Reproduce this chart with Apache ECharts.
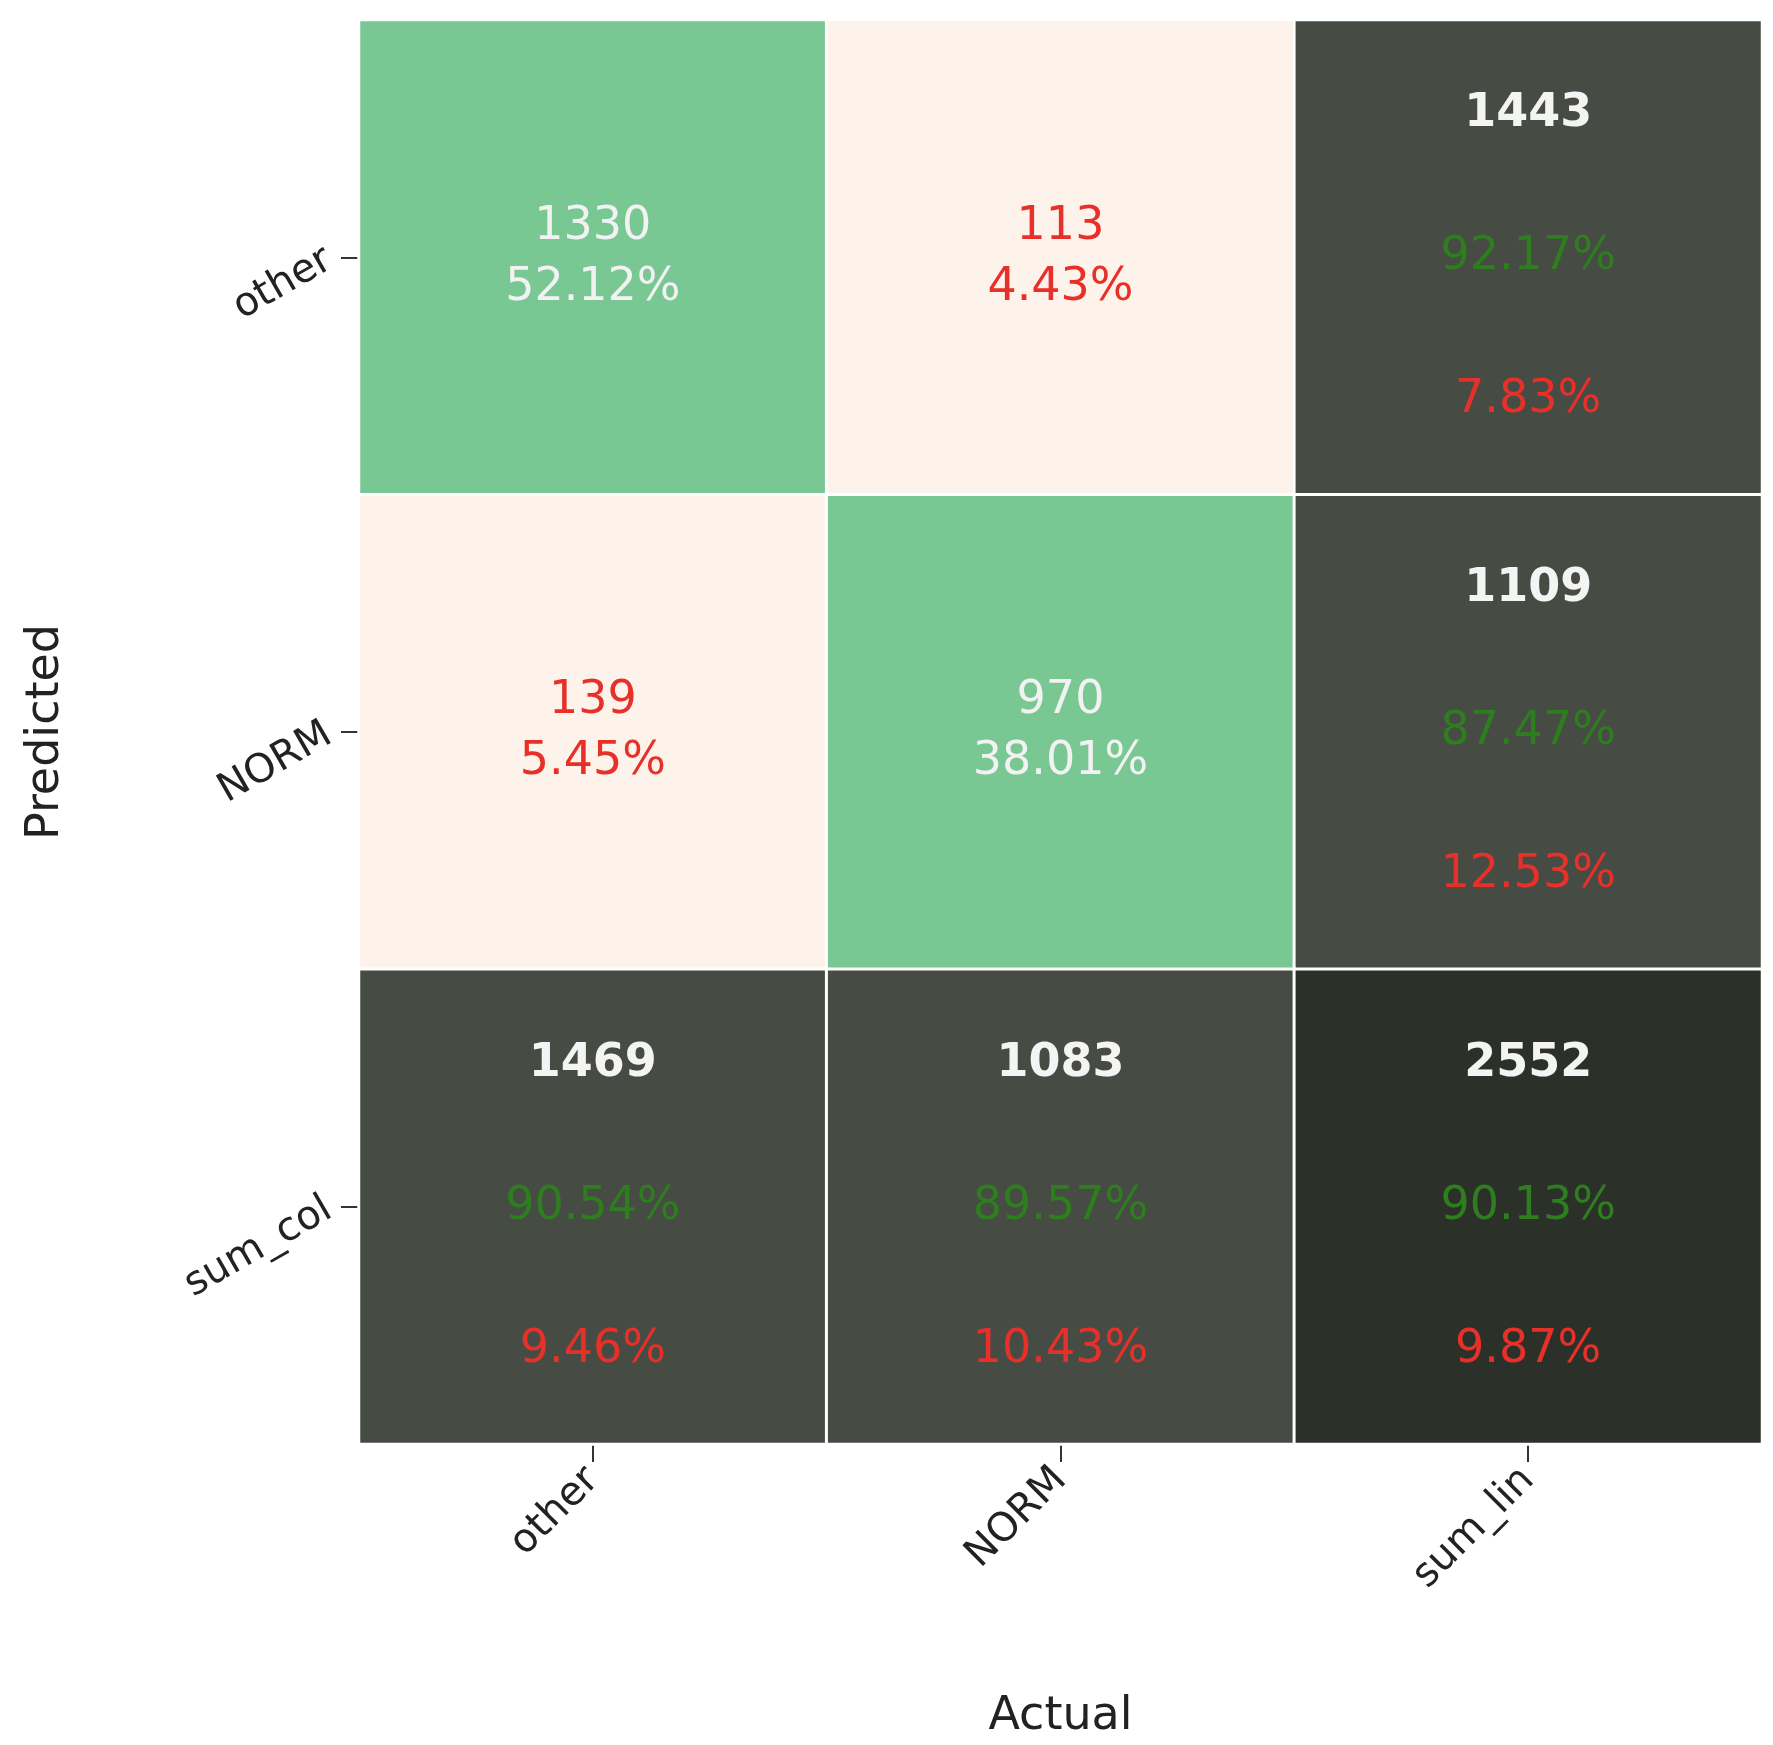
<!DOCTYPE html>
<html><head><meta charset="utf-8">
<script src="https://cdn.jsdelivr.net/npm/echarts@6/dist/echarts.min.js"></script>
<style>html,body{margin:0;background:#fff}#c{width:1773px;height:1745px}</style>
</head><body><div id="c"></div>
<script>
const xCats = ['other', 'NORM', 'sum_lin'];
const yCats = ['other', 'NORM', 'sum_col'];
// [xIndex, yIndex, count, pct, errPct, kind]
const counts = [[1330, 113, 1443], [139, 970, 1109], [1469, 1083, 2552]];
const pcts = [['52.12%', '4.43%', '92.17%'], ['5.45%', '38.01%', '87.47%'], ['90.54%', '89.57%', '90.13%']];
const errs = [[null, null, '7.83%'], [null, null, '12.53%'], ['9.46%', '10.43%', '9.87%']];

const data = [];
for (let r = 0; r < 3; r++) for (let c = 0; c < 3; c++) {
  let color, fmt;
  if (r < 2 && c < 2) {
    const diag = r === c;
    color = diag ? '#79C792' : '#FDF3EA';
    const st = diag ? 'w' : 'r';
    fmt = `{${st}|${counts[r][c]}}\n{${st}|${pcts[r][c]}}`;
  } else {
    color = (r === 2 && c === 2) ? '#2B3029' : '#464B44';
    fmt = `{b|${counts[r][c]}}\n{g|${pcts[r][c]}}\n{e|${errs[r][c]}}`;
  }
  data.push({ value: [c, r, counts[r][c]], itemStyle: { color }, label: { formatter: fmt } });
}
const F = 'DejaVu Sans';
const chart = echarts.init(document.getElementById('c'));
chart.setOption({
  animation: false,
  grid: { left: 359, right: 11, top: 20, bottom: 292 },
  xAxis: {
    type: 'category', data: xCats, name: 'Actual', nameLocation: 'middle', nameGap: 250,
    nameTextStyle: { fontFamily: F, fontSize: 46, color: '#222' },
    axisLine: { show: false }, splitLine: { show: false },
    axisTick: { show: true, alignWithLabel: true, length: 18, lineStyle: { color: '#333', width: 2 } },
    axisLabel: { rotate: 45, fontFamily: F, fontSize: 40, color: '#222', margin: 30 }
  },
  yAxis: {
    type: 'category', data: yCats, inverse: true, name: 'Predicted', nameLocation: 'middle', nameGap: 290,
    nameTextStyle: { fontFamily: F, fontSize: 46, color: '#222' },
    axisLine: { show: false }, splitLine: { show: false },
    axisTick: { show: true, alignWithLabel: true, length: 18, lineStyle: { color: '#333', width: 2 } },
    axisLabel: { rotate: 30, fontFamily: F, fontSize: 40, color: '#222', margin: 30 }
  },
  series: [{
    type: 'heatmap', data,
    itemStyle: { borderColor: '#fff', borderWidth: 3 },
    label: {
      show: true, fontFamily: F,
      rich: {
        w: { color: '#F2F2F2', fontSize: 46, fontFamily: F, lineHeight: 61 },
        r: { color: '#E8302A', fontSize: 46, fontFamily: F, lineHeight: 61 },
        b: { color: '#F4F4F4', fontSize: 46, fontFamily: F, fontWeight: 'bold', lineHeight: 143 },
        g: { color: '#2E7D1F', fontSize: 46, fontFamily: F, lineHeight: 143 },
        e: { color: '#E8302A', fontSize: 46, fontFamily: F, lineHeight: 143 }
      }
    }
  }]
});
</script></body></html>
